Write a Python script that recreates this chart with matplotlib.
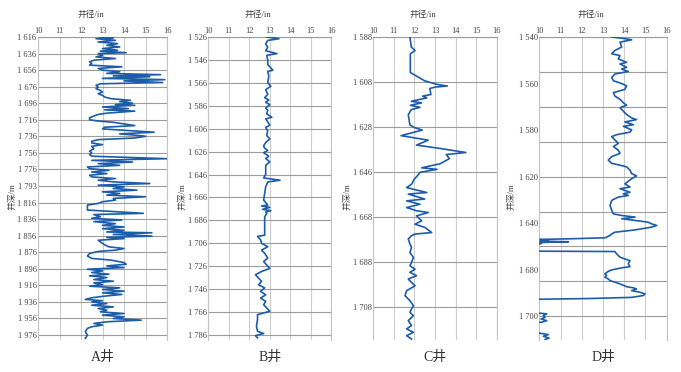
import matplotlib
matplotlib.use('Agg')
import matplotlib.pyplot as plt

plt.rcParams['font.family'] = ['Liberation Serif', 'Noto Sans CJK SC']

# caliper readings (in) against depth (m) for the four wells
a_depth = [1616.0, 1616.8, 1618, 1620, 1622, 1624, 1626, 1628, 1630, 1632, 1633, 1635, 1636, 1638,
           1640, 1642, 1644, 1646, 1648, 1650, 1652, 1654, 1656, 1658, 1660, 1661.5, 1663, 1664,
           1666, 1667.5, 1669, 1671, 1672.5, 1674.5, 1676.5, 1678.5, 1680.5, 1682.5, 1684.5,
           1686.5, 1688.5, 1690.5, 1692.5, 1694, 1696, 1697.5, 1698.5, 1700.5, 1702.5, 1704,
           1705.5, 1708, 1709.5, 1711.5, 1713.5, 1716, 1717.5, 1719, 1721, 1723, 1725, 1727,
           1729, 1731, 1733, 1735, 1736, 1738, 1740, 1742, 1744, 1746, 1748, 1751, 1754, 1756,
           1758, 1760, 1763, 1765, 1767, 1769, 1771, 1773, 1775, 1777, 1779, 1781, 1783, 1785,
           1787, 1789, 1791, 1793, 1795, 1797, 1799, 1801, 1803, 1805, 1807, 1809, 1811, 1813,
           1815, 1817, 1819, 1821, 1825, 1829, 1830.5, 1833, 1835, 1837, 1839, 1841.5, 1843.5,
           1845.5, 1847.5, 1849.5, 1851.5, 1852.5, 1854.5, 1856.5, 1858, 1859.5, 1861.5, 1863.5,
           1867, 1869.5, 1871.5, 1873.5, 1875, 1877.5, 1880.5, 1883.5, 1885.5, 1888.5, 1890.5,
           1892.5, 1894.5, 1896.5, 1898.5, 1900.5, 1902.5, 1904.5, 1906.5, 1909, 1911, 1913,
           1915, 1917, 1919, 1921, 1923, 1925, 1927, 1929, 1931, 1933, 1934.5, 1936, 1938, 1940,
           1942, 1944, 1946, 1948, 1950, 1952, 1954, 1956, 1958, 1960, 1962, 1964, 1966, 1968,
           1972, 1976, 1980]
a_cal = [12.9, 13.5, 12.7, 13.6, 12.8, 13.7, 13.2, 13.8, 13.0, 13.7, 12.9, 14.1, 12.8, 13.0,
         12.7, 13.6, 12.6, 12.4, 12.5, 12.4, 13.9, 12.8, 13.0, 13.8, 13.2, 15.7, 13.5, 15.2,
         13.0, 15.9, 14.0, 15.8, 12.9, 12.7, 12.8, 12.7, 12.9, 13.0, 12.8,
         13.0, 13.1, 13.4, 14.3, 13.8, 14.4, 13.6, 14.5, 13.0, 14.2, 13.1,
         14.5, 13.2, 12.8, 12.6, 12.4, 12.4, 12.8, 13.5, 14.0, 14.5, 13.1, 13.0,
         14.2, 15.4, 13.8, 14.7, 15.0, 14.5, 12.8, 12.5, 12.5, 13.0, 12.5, 12.6, 12.4, 12.5,
         12.4, 12.5, 16.0, 12.5, 14.4, 12.8, 13.8, 12.3, 12.4, 13.3, 12.5, 13.2, 12.4, 12.5,
         13.6, 12.8, 13.5, 15.2, 12.8, 14.0, 13.5, 14.6, 13.0, 13.8, 13.2, 15.0, 13.5, 13.6,
         13.0, 12.8, 12.3, 12.3, 12.3, 14.9, 12.6, 12.9, 12.5, 13.9, 12.6, 13.6, 13.0,
         14.0, 13.0, 14.0, 13.2, 15.3, 13.5, 15.3, 13.2, 14.0, 12.8, 12.9,
         13.1, 13.3, 14.0, 13.6, 12.8, 12.4, 12.3, 12.5, 13.4, 14.0, 14.1,
         13.2, 14.0, 12.3, 13.0, 12.5, 13.3, 12.4, 13.2, 12.6, 13.5, 12.6,
         13.0, 12.4, 13.8, 13.0, 14.0, 13.0, 13.9, 13.1, 12.5, 12.2, 13.0, 12.5, 13.2, 12.5,
         13.5, 12.8, 13.2, 12.9, 14.0, 13.0, 14.0, 13.5, 14.8, 13.2, 12.6, 13.0, 12.5, 12.3,
         12.2, 12.3, 12.2]

b_depth = [1526, 1527.5, 1529, 1532, 1535, 1538, 1540.5, 1542, 1546, 1550, 1555, 1556, 1560,
           1566, 1569, 1572, 1576, 1579, 1581, 1583, 1585, 1588, 1590, 1593, 1596, 1597.5, 1600,
           1603, 1605, 1608, 1612, 1615, 1618, 1621, 1623, 1625, 1627, 1630, 1632, 1635, 1638,
           1642, 1646, 1649, 1651, 1652.5, 1656.7, 1662.5, 1668.3, 1672.7, 1673.5, 1674.7, 1676.4,
           1677.6, 1678.8, 1680, 1683, 1699, 1700, 1703, 1706, 1709, 1712, 1714.7, 1719, 1722,
           1725, 1728, 1730.6, 1733.5, 1736.4, 1739.3, 1742.2, 1745, 1748, 1751, 1753.8, 1756.7,
           1759.6, 1762.5, 1765.4, 1768.3, 1772.7, 1778.5, 1782.8, 1784.8, 1786.6, 1788.6]
b_cal = [12.85, 13.45, 12.9, 12.8, 12.9, 12.8, 13.35, 12.85, 12.9, 12.9, 13.15, 12.9, 12.95,
         12.9, 13.05, 12.8, 12.9, 12.75, 12.95, 12.8, 13.0, 12.8, 12.9, 12.85, 13.1, 12.8, 12.9,
         13.0, 12.8, 12.9, 12.85, 13.0, 12.8, 12.7, 12.75, 12.9, 12.7, 12.95, 12.8, 13.0, 12.8,
         12.8, 12.8, 12.7, 13.5, 12.9, 12.8, 12.75, 12.7, 12.9, 12.6, 13.0, 12.65,
         13.05, 12.8, 12.85, 12.75, 12.75, 12.4, 12.55, 12.6, 12.9, 12.6, 12.75, 12.9, 12.7,
         12.85, 13.0, 12.6, 12.3, 12.45, 12.6, 12.45, 12.75, 12.55, 12.8, 12.55, 12.8,
         12.7, 12.85, 13.0, 12.4, 12.4, 12.35, 12.4, 12.7, 12.3, 12.4]

c_depth = [1588.0, 1592.5, 1594.0, 1595.5, 1603.8, 1606.3, 1607.5, 1609.1, 1609.8, 1610.3,
           1610.9, 1613.6, 1614.3, 1615.1, 1616.6, 1617.3, 1618.4, 1619.3, 1620.3, 1622.6,
           1627.1, 1628.3, 1629.4, 1631.9, 1633.9, 1636.1, 1637.6, 1639.4, 1640.3, 1642.1,
           1644.4, 1646.2, 1646.9, 1648.2, 1649.7, 1651.2, 1653.5, 1655.0, 1657.2, 1657.9,
           1660.1, 1660.9, 1662.4, 1663.9, 1665.3, 1666.1, 1667.6, 1669.8, 1671.3, 1672.7,
           1675.0, 1675.7, 1676.4, 1677.9, 1680.1, 1681.6, 1683.9, 1686.1, 1688.3, 1689.8,
           1691.3, 1692.7, 1694.2, 1695.7, 1697.2, 1698.7, 1700.9, 1703.1, 1705.3, 1707.6,
           1709.0, 1710.5, 1712.0, 1714.2, 1716.4, 1717.9, 1719.4, 1720.9, 1722.4]
c_cal = [11.78, 11.85, 12.03, 11.8, 11.8, 12.27, 12.5, 13.1, 13.6, 13.0,
         12.75, 12.8, 12.4, 12.6, 11.85, 12.35, 11.8, 12.27, 11.85, 11.7,
         11.78, 12.0, 12.38, 11.35, 12.67, 12.1, 13.25, 14.5, 13.55, 13.7,
         13.25, 12.35, 13.1, 12.27, 12.15, 12.0, 11.86, 11.62, 12.6, 11.7,
         12.5, 11.62, 12.27, 11.62, 12.1, 12.67, 12.1, 12.35, 12.03, 12.5,
         12.84, 12.03, 11.86, 11.7, 11.78, 11.86, 11.78, 11.95, 11.86, 11.78,
         12.03, 11.78, 12.1, 11.7, 11.86, 12.03, 11.62, 11.54, 11.78, 11.95,
         11.86, 11.78, 11.95, 11.7, 11.86, 11.62, 11.95, 11.62, 11.86]

# D is plotted on the label scale of the original figure (labels are irregular)
d_depth = [1540.0, 1540.7, 1541.2, 1542.2, 1544.3, 1545.8, 1547.2, 1548.0, 1549.4, 1550.9,
           1551.6, 1553.0, 1553.8, 1554.8, 1555.9, 1557.4, 1558.8, 1560.0, 1561.0, 1562.5,
           1563.9, 1565.4, 1566.8, 1568.3, 1569.3, 1570.4, 1571.9, 1573.3, 1574.8, 1575.5,
           1576.5, 1577.7, 1578.4, 1579.9, 1580.9, 1581.3, 1582.0, 1582.8, 1584.2, 1585.7,
           1587.1, 1588.6, 1590.0, 1591.4, 1592.9, 1594.3, 1595.1, 1595.8, 1597.2, 1598.7,
           1599.7, 1600.9, 1603.1, 1604.5, 1605.2, 1606.7, 1607.4, 1608.1, 1608.8, 1610.2,
           1612.4, 1614.5, 1616.0, 1616.7, 1617.4, 1618.1, 1618.9, 1619.6, 1620.3, 1621.0,
           1621.7, 1622.9, 1623.9, 1624.6, 1625.3, 1626.3, 1626.7, 1627.0, 1627.5, 1627.7,
           1628.0, 1628.3, 1628.6, 1628.9, 1629.2, 1632.0, 1632.2, 1633.2, 1634.6, 1635.4,
           1636.1, 1637.5, 1638.7, 1639.2, 1640.1, 1640.7, 1641.8, 1642.5, 1643.2, 1644.0,
           1644.7, 1645.4, 1646.1, 1647.3, 1647.8, 1648.3, 1649.0, 1649.7, 1650.4, 1651.1,
           1651.9, 1652.4, 1652.7, 1652.9, 1658.5, 1658.7, 1659.0, 1659.7, 1660.5, 1661.2,
           1661.9, 1662.6, 1662.8, 1667.1, 1667.3, 1667.9, 1668.6, 1669.4, 1670.0]
d_cal = [13.41, 14.03, 14.35, 13.80, 13.88, 13.56, 13.41, 13.80, 13.72, 14.11,
         13.80, 14.11, 13.88, 14.19, 13.56, 13.41, 13.49, 13.88, 14.11, 14.03,
         13.49, 13.56, 13.80, 13.96, 14.11, 13.80, 13.96, 14.11, 14.35, 14.58,
         14.03, 14.43, 13.96, 14.35, 14.27, 14.03, 13.64, 13.41, 13.56, 13.72,
         13.49, 13.72, 13.80, 13.41, 13.25, 13.41, 13.80, 14.11, 14.27, 14.35,
         14.58, 14.35, 14.03, 14.27, 13.80, 14.27, 13.96, 14.19, 13.72, 13.41,
         13.33, 13.41, 13.49, 13.88, 14.51, 13.88, 14.58, 15.13, 15.29, 15.53,
         15.29, 14.51, 13.56, 13.41, 13.33, 13.09, 11.52, 10.03, 10.42, 10.03,
         11.37, 10.03, 10.11, 10.03, 9.0, 9.0, 13.56, 13.64, 13.80, 14.03,
         14.27, 14.19, 14.27, 13.88, 13.41, 13.25, 13.09, 13.17, 13.09, 13.25,
         13.33, 13.56, 13.80, 14.11, 14.43, 14.58, 14.35, 14.74, 14.98, 14.90,
         14.35, 12.31, 10.03, 9.0, 9.0, 10.03, 10.35, 10.19, 10.27, 10.08,
         10.35, 10.11, 9.0, 9.0, 10.03, 10.42, 10.19, 10.46, 10.27]

x_ticks = [10, 11, 12, 13, 14, 15, 16]

a_ticks = [1616, 1636, 1656, 1676, 1696, 1716, 1736, 1756, 1776, 1796, 1816, 1836, 1856,
           1876, 1896, 1916, 1936, 1956, 1976]
a_labels = ['1 616', '1 636', '1 656', '1 676', '1 696', '1 716', '1 736', '1 756', '1 776',
            '1 793', '1 816', '1 836', '1 856', '1 876', '1 896', '1 916', '1 936', '1 956',
            '1 976']
b_ticks = [1526, 1546, 1566, 1586, 1606, 1626, 1646, 1666, 1686, 1706, 1726, 1746, 1766, 1786]
b_labels = ['1 526', '1 546', '1 566', '1 586', '1 606', '1 626', '1 646', '1 666', '1 686',
            '1 706', '1 726', '1 746', '1 766', '1 786']
c_ticks = [1588, 1608, 1628, 1648, 1668, 1688, 1708]
c_labels = ['1 588', '1 608', '1 628', '1 646', '1 668', '1 688', '1 708']
d_ticks = [1540, 1560, 1580, 1600, 1620, 1640, 1660]
d_labels = ['1 540', '1 560', '1 580', '1 620', '1 640', '1 680', '1 700']
d_grid = [1540, 1555, 1570, 1585, 1600, 1615, 1630, 1645, 1660]

titles = ['A井', 'B井', 'C井', 'D井']

BLUE = '#1c5ca8'
W, H = 681, 372


def draw_well(fig, box, depth, cal, ticks, labels, grid, ylim, title, ylab_x):
    left, right = box
    ax = fig.add_axes([left / W, 1 - 339.5 / H, (right - left) / W, (339.5 - 37) / H])
    ax.plot(cal, depth, color=BLUE, lw=1.2, zorder=3)
    ax.set_xlim(10, 16)
    ax.set_ylim(ylim[1], ylim[0])

    ax.xaxis.tick_top()
    ax.set_xticks(x_ticks)
    ax.set_yticks(ticks, labels)
    ax.tick_params(length=0, labelsize=6, labelcolor='#444444')
    ax.tick_params(axis='x', pad=1.5)
    ax.tick_params(axis='y', pad=1)

    # light vertical grid, darker depth lines
    ax.grid(axis='x', color='#cdcdcd', lw=0.8, zorder=1)
    for g in grid:
        ax.axhline(g, color='#9c9c9c', lw=0.8, zorder=2)
    ax.set_axisbelow(True)
    for s in ['left', 'right']:
        ax.spines[s].set_color('#c4c4c4')
        ax.spines[s].set_linewidth(0.8)
    ax.spines['top'].set_color('#9c9c9c')
    ax.spines['top'].set_linewidth(0.8)
    ax.spines['bottom'].set_visible(False)

    cx = (left + right) / 2
    fig.text((cx - 12) / W, 1 - 14.5 / H, '井径/in', ha='center', va='center',
             fontsize=6.3, color='#444444')
    fig.text(ylab_x / W, 1 - 197 / H, '井深/m', ha='center', va='center', rotation=90,
             fontsize=6.3, color='#444444')
    fig.text(cx / W, 1 - 357 / H, title, ha='center', va='center', fontsize=10,
             color='#333333')
    return ax


fig = plt.figure(figsize=(W / 100, H / 100), dpi=100)
draw_well(fig, (38, 167), a_depth, a_cal, a_ticks, a_labels, a_ticks, (1616, 1981.4), titles[0], 12)
draw_well(fig, (208.3, 331.3), b_depth, b_cal, b_ticks, b_labels, b_ticks, (1526, 1790), titles[1], 182)
draw_well(fig, (373.3, 496.7), c_depth, c_cal, c_ticks, c_labels, c_ticks, (1588, 1722.6), titles[2], 347)
draw_well(fig, (539.3, 666.7), d_depth, d_cal, d_ticks, d_labels, d_grid, (1540, 1670), titles[3], 511)

fig.savefig('out.png', dpi=100)
